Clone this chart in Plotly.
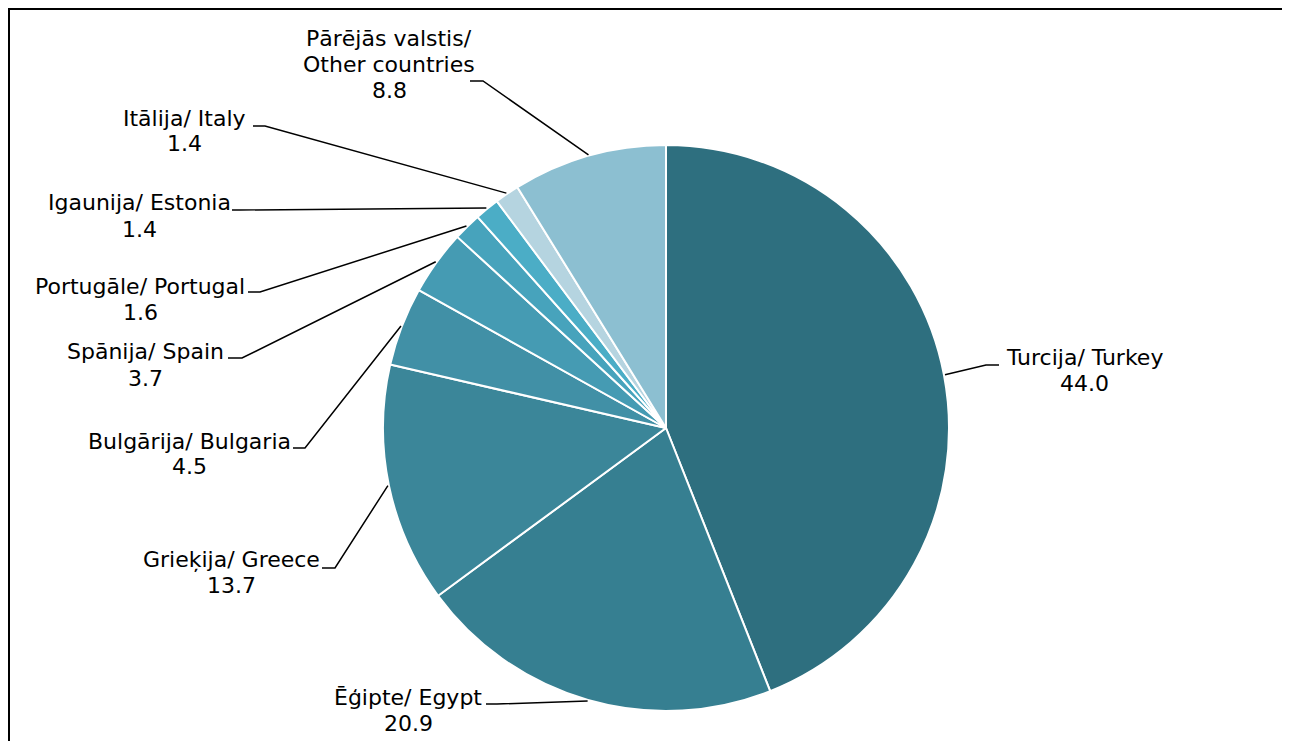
import numpy as np
import plotly.graph_objects as go

# ---- data ----
labels = ["Turcija/ Turkey", "Ēģipte/ Egypt", "Grieķija/ Greece", "Bulgārija/ Bulgaria",
          "Spānija/ Spain", "Portugāle/ Portugal", "Igaunija/ Estonia", "Itālija/ Italy",
          "Pārējās valstis/<br>Other countries"]
values = [44.0, 20.9, 13.7, 4.5, 3.7, 1.6, 1.4, 1.4, 8.8]
colors = ["#2E6F7F", "#367F91", "#3B8699", "#4190A6", "#459BB3", "#47A3BC",
          "#4BADC6", "#B5D4E0", "#8CBFD1"]

# ---- layout (pixels, page coordinates) ----
W, H = 1290, 741
OFF = 8  # default page body margin
CX, CY, R = 666, 428, 283
LINE_H = 26
# label text centre (x, y), leader elbow (x, y), leader end x
label_layout = [
    (1084, 370, 986, 365, 999),
    (408, 710, 497, 704, 486),
    (231, 572, 335, 568, 322),
    (189, 454, 305, 448, 293),
    (145, 365, 242, 358, 228),
    (140, 299, 260, 292, 248),
    (139, 216, 240, 210, 232),
    (184, 131, 265, 126, 253),
    (389, 64, 483, 81, 470),
]

def px(x):
    return (x - OFF) / W

def py(y):
    return 1 - (y - OFF) / H

fig = go.Figure(go.Pie(
    labels=labels, values=values, sort=False, direction="clockwise", rotation=0,
    marker=dict(colors=colors, line=dict(color="white", width=2)),
    textinfo="none", hoverinfo="label+value", showlegend=False,
    domain=dict(x=[px(CX - R), px(CX + R)], y=[py(CY + R), py(CY - R)]),
))

shapes = []
annotations = []
total = sum(values)
cum = 0.0
for lab, v, (tx, ty, ex, ey, endx) in zip(labels, values, label_layout):
    mid = (cum + v / 2) / total * 2 * np.pi
    cum += v
    sx = CX + (R + 1) * np.sin(mid)
    sy = CY - (R + 1) * np.cos(mid)
    path = f"M {px(sx)},{py(sy)} L {px(ex)},{py(ey)} L {px(endx)},{py(ey)}"
    shapes.append(dict(type="path", xref="paper", yref="paper", path=path,
                       line=dict(color="black", width=1.5)))
    lines = lab.split("<br>") + [f"{v:.1f}"]
    n = len(lines)
    for i, t in enumerate(lines):
        yy = ty + (i - (n - 1) / 2) * LINE_H
        annotations.append(dict(x=px(tx), y=py(yy), xref="paper", yref="paper",
                                text=t, showarrow=False,
                                xanchor="center", yanchor="middle", align="center",
                                font=dict(family="DejaVu Sans", size=22, color="black")))

# outer frame
shapes.append(dict(type="rect", xref="paper", yref="paper",
                   x0=px(9), x1=1.02, y0=-0.02, y1=py(9),
                   line=dict(color="black", width=2)))

fig.update_layout(
    width=W, height=H, margin=dict(l=0, r=0, t=0, b=0),
    paper_bgcolor="white", plot_bgcolor="white",
    shapes=shapes, annotations=annotations,
    font=dict(family="DejaVu Sans"),
)

fig.write_html("out.html")
